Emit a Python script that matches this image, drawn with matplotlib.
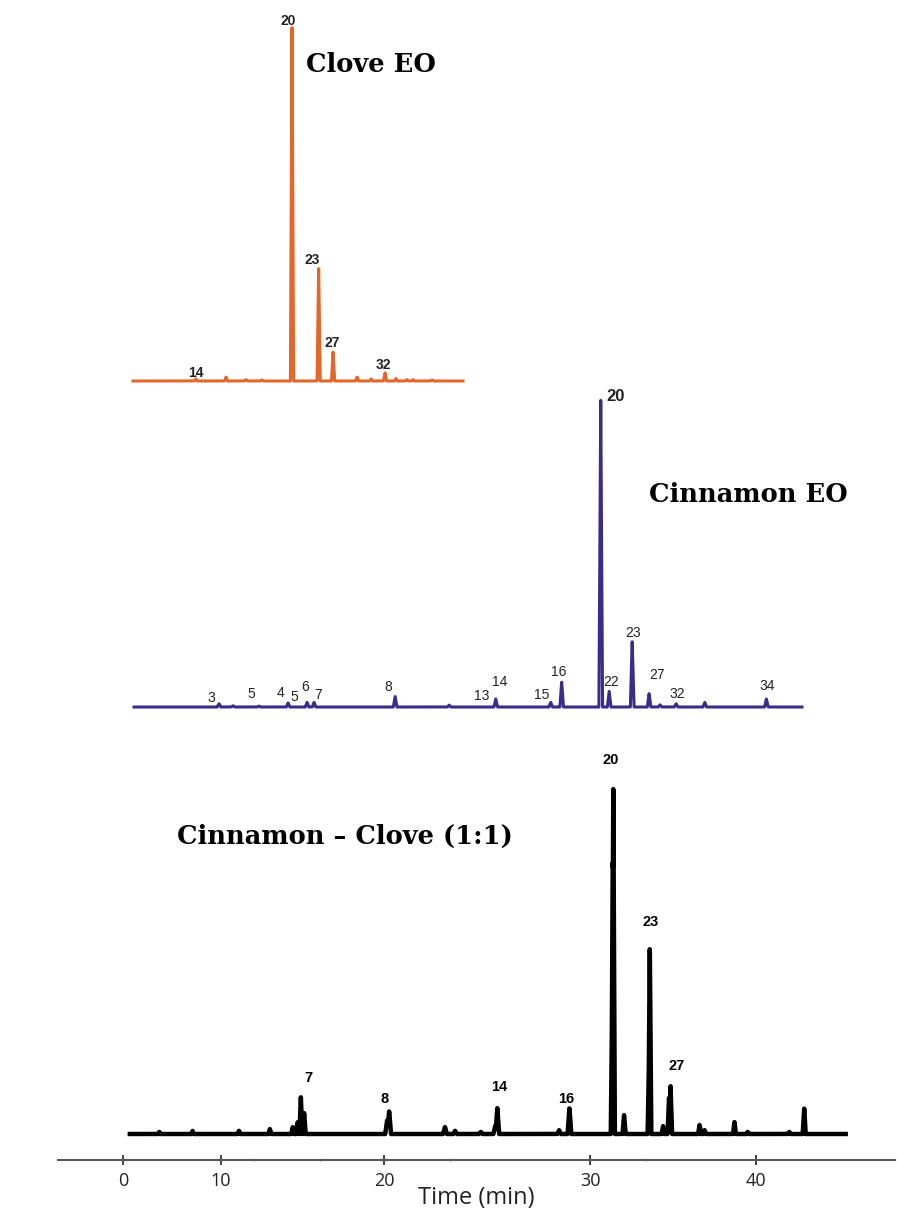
import numpy as np
import matplotlib.pyplot as plt

# ---- data (retention time in min, relative intensity in %) ----
clove_rt = [23.38, 25.9, 27.57, 28.9, 31.4, 33.62, 34.82, 36.82, 38.0, 39.15, 40.07, 40.98, 41.48, 43.07]
clove_int = [0.6, 1.1, 0.4, 0.3, 100, 31.9, 8.2, 1.1, 0.6, 2.3, 0.7, 0.4, 0.4, 0.3]
clove_labels = ["20", "23", "27", "32", "14"]
clove_label_rt = [31.07, 33.07, 34.73, 39.0, 23.38]
clove_label_y = [101.7, 34.2, 10.7, 4.5, 2.3]

cinn_rt = [5.73, 6.67, 8.42, 10.38, 11.66, 12.13, 17.59, 21.23, 24.37, 28.07, 28.81,
           31.44, 32.01, 33.56, 34.70, 35.44, 36.52, 38.45, 42.6]
cinn_int = [1.06, 0.4, 0.3, 1.3, 1.5, 1.5, 3.4, 0.6, 2.6, 1.5, 8.0,
            100, 5.0, 21.4, 4.3, 0.7, 1.06, 1.5, 2.6]
cinn_labels = ["3", "5", "4", "5", "6", "7", "8", "13", "14", "15", "16", "20", "22", "23", "27", "32", "34"]
cinn_label_rt = [5.22, 7.88, 9.87, 10.78, 11.56, 12.4, 17.12, 23.45, 24.63, 27.49, 28.64,
                 32.46, 32.11, 33.63, 35.24, 36.59, 42.63]
cinn_label_y = [2.9, 4.2, 4.5, 3.2, 6.4, 3.8, 6.4, 3.5, 8.0, 3.8, 11.2,
                99.5, 8.0, 23.7, 10.3, 4.2, 6.7]

mix_rt = [3.7, 7.1, 11.1, 13.0, 14.4, 14.7, 14.9, 15.1, 20.15, 20.25, 22.96, 23.45, 24.7,
          25.4, 25.5, 28.5, 29.0, 31.34, 31.37, 31.4, 32.05, 33.56, 33.6, 34.4, 34.76, 34.85,
          36.6, 36.9, 38.7, 39.5, 42.0, 42.9]
mix_int = [0.6, 0.9, 0.9, 1.4, 2.0, 3.4, 10.5, 6.0, 4.0, 6.6, 2.0, 0.9, 0.6,
           2.3, 7.4, 1.1, 7.4, 39, 79, 100, 5.4, 23, 54, 2.3, 10.3, 13.7,
           2.6, 1.1, 3.4, 0.6, 0.6, 7.4]
mix_labels = ["20", "23", "27", "7", "8", "14", "16"]
mix_label_rt = [31.25, 33.65, 35.2, 15.35, 20.05, 25.6, 28.85]
mix_label_y = [106.6, 60.4, 19.4, 16.0, 10.0, 13.4, 10.0]

# printed time axis of the composite is not linear: tick value -> drawn position
axis_min = [-10, 0, 10, 20, 30, 40, 50]
axis_pos = [25, 123, 221, 384, 590, 756, 922]
tick_vals = [0, 10, 20, 30, 40]
minor_vals = [12.0, 16.1, 23.2, 33.4]

W, H = 897, 1211
CLOVE = "#E2672B"
CINN = "#3B2C8A"


def rect(x0, x1, y_top, y_bot):
    return [x0 / W, 1 - y_bot / H, (x1 - x0) / W, (y_bot - y_top) / H]


def trace(rt, inten, t0, t1, half_w):
    t = np.linspace(t0, t1, 8000)
    y = np.zeros_like(t)
    for r, h in zip(rt, inten):
        y = np.maximum(y, h * np.clip(1 - np.abs(t - r) / half_w, 0, None))
    return t, y


fig = plt.figure(figsize=(W / 100, H / 100), dpi=100)

# clove
ax1 = fig.add_axes(rect(133, 463, 27, 381))
t, y = trace(clove_rt, clove_int, 18.15, 45.65, 0.13)
ax1.plot(t, y, color=CLOVE, lw=2.2, clip_on=False)
ax1.set_xlim(18.15, 45.65)
ax1.set_ylim(0, 100)
for lab, x, yy in zip(clove_labels, clove_label_rt, clove_label_y):
    ax1.text(x, yy, lab, ha="center", va="center", fontsize=10, fontweight="bold",
             family="Liberation Sans", color="#222222")
ax1.axis("off")

# cinnamon
ax2 = fig.add_axes(rect(134, 802, 395, 707))
t, y = trace(cinn_rt, cinn_int, 0, 45, 0.12)
ax2.plot(t, y, color=CINN, lw=2.2, clip_on=False)
ax2.set_xlim(0, 45)
ax2.set_ylim(0, 100)
for lab, x, yy in zip(cinn_labels, cinn_label_rt, cinn_label_y):
    big = lab == "20" and yy > 50
    ax2.text(x, yy, lab, ha="center", va="center", fontsize=12 if big else 10,
             fontweight="bold" if big else "normal", family="Liberation Sans",
             color="#222222")
ax2.axis("off")

# mixture + time axis
ax3 = fig.add_axes(rect(58, 895, 783, 1134))
ax3.set_xscale("function", functions=(lambda v: np.interp(v, axis_min, axis_pos),
                                       lambda p: np.interp(p, axis_pos, axis_min)))
t, y = trace(mix_rt, mix_int, 0.7, 45.4, 0.09)
ax3.plot(t, y, color="black", lw=3.2, clip_on=False)
ax3.set_xlim(-6.63, 48.37)
ax3.set_ylim(0, 100)
for lab, x, yy in zip(mix_labels, mix_label_rt, mix_label_y):
    ax3.text(x, yy, lab, ha="center", va="center", fontsize=10.5, fontweight="bold",
             family="Liberation Sans", color="black")
for s in ["left", "top", "right"]:
    ax3.spines[s].set_visible(False)
ax3.spines["bottom"].set_position(("outward", 19))
ax3.spines["bottom"].set_color("#55595e")
ax3.spines["bottom"].set_linewidth(1.5)
ax3.set_yticks([])
ax3.set_xticks(tick_vals)
ax3.set_xticklabels([str(v) for v in tick_vals], family="Open Sans", fontsize=13, color="#222222")
ax3.set_xticks(minor_vals, minor=True)
ax3.tick_params(axis="x", which="major", direction="inout", length=7, width=1.3,
                color="#333333", pad=5)
ax3.tick_params(axis="x", which="minor", direction="inout", length=3, width=0.8,
                color="#cccccc")
ax3.set_xlabel("Time (min)", family="Open Sans", fontsize=17, color="#222222", labelpad=-3)

# panel titles
title_kw = dict(ha="center", va="center", fontsize=18.5, fontweight="bold", family="DejaVu Serif")
fig.text(371 / W, 1 - 65 / H, "Clove EO", **title_kw)
fig.text(748 / W, 1 - 494 / H, "Cinnamon EO", **title_kw)
fig.text(345 / W, 1 - 836 / H, "Cinnamon \u2013 Clove (1:1)", **title_kw)

fig.savefig("out.png", dpi=100)
